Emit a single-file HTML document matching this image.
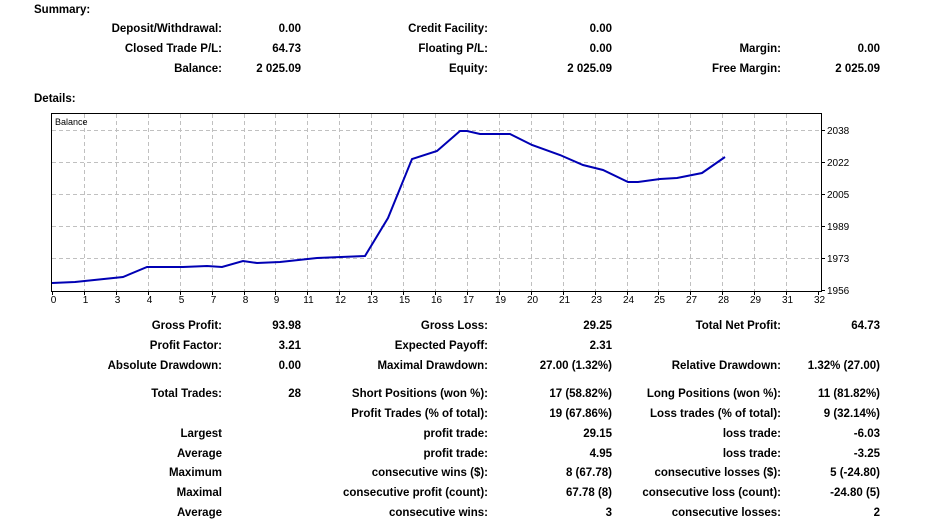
<!DOCTYPE html>
<html><head><meta charset="utf-8"><style>
body{margin:0;width:928px;height:527px;background:#fff;position:relative;overflow:hidden;font-family:"Liberation Sans",sans-serif;font-weight:bold;font-size:11.5px;color:#000}
.t{position:absolute;white-space:nowrap;line-height:13px}
.r{text-align:right}
svg{position:absolute;left:0;top:0}
</style></head><body>
<div class="t" style="left:34px;top:4px">Summary:</div>
<div class="t" style="left:34px;top:93px">Details:</div>
<div id="c"></div>
<svg width="928" height="527" style="font-weight:normal">
<g stroke="#c0c0c0" stroke-dasharray="4,3" stroke-width="1">
<line x1="52" y1="130.5" x2="821" y2="130.5"/><line x1="52" y1="162.5" x2="821" y2="162.5"/><line x1="52" y1="194.5" x2="821" y2="194.5"/><line x1="52" y1="226.5" x2="821" y2="226.5"/><line x1="52" y1="258.5" x2="821" y2="258.5"/>
</g>
<g id="vg" stroke="#c0c0c0" stroke-dasharray="4,3"></g>
<rect x="51.5" y="113.5" width="770" height="178" fill="none" stroke="#000"/>
<text x="55" y="125" font-family="Liberation Sans,sans-serif" font-size="9">Balance</text>
<polyline fill="none" stroke="#0000b4" stroke-width="2" points="52,283 75,282 123,277 147,267 183,267 207,266 222,267 243,261 257,263 280,262 317,258 365,256 388,218 412,159 437,151 460,131 467,131 480,134 510,134 532,145 560,155 583,165 603,170 628,182 638,182 660,179 677,178 702,173 725,157"/>
<g id="yl" font-family="Liberation Sans,sans-serif" font-size="10"></g>
<g id="xl" font-family="Liberation Sans,sans-serif" font-size="10" text-anchor="middle"></g>
</svg>
<script>
var ns="http://www.w3.org/2000/svg";
var xs=[0,1,3,4,5,7,8,9,11,12,13,15,16,17,19,20,21,23,24,25,27,28,29,31,32];
var vg=document.getElementById('vg'),xl=document.getElementById('xl'),yl=document.getElementById('yl');
xs.forEach(function(v,i){var x=Math.round(52+i*31.92)+0.5;
if(i>0&&i<24){var l=document.createElementNS(ns,'line');l.setAttribute('x1',x);l.setAttribute('x2',x);l.setAttribute('y1',114);l.setAttribute('y2',291);vg.appendChild(l);}
var k=document.createElementNS(ns,'line');k.setAttribute('x1',x);k.setAttribute('x2',x);k.setAttribute('y1',291);k.setAttribute('y2',295);k.setAttribute('stroke','#000');vg.parentNode.appendChild(k);
var t=document.createElementNS(ns,'text');t.setAttribute('x',x+1);t.setAttribute('y',303);t.textContent=v;xl.appendChild(t);});
[[2038,130],[2022,162],[2005,194],[1989,226],[1973,258],[1956,290]].forEach(function(a){
var t=document.createElementNS(ns,'text');t.setAttribute('x',827);t.setAttribute('y',a[1]+4);t.textContent=a[0];yl.appendChild(t);
var k=document.createElementNS(ns,'line');k.setAttribute('x1',821);k.setAttribute('x2',825);k.setAttribute('y1',a[1]+.5);k.setAttribute('y2',a[1]+.5);k.setAttribute('stroke','#000');yl.appendChild(k);});
var cols=[222,301,488,612,781,880];
var rows=[
[28,"Deposit/Withdrawal:","0.00","Credit Facility:","0.00","",""],
[48,"Closed Trade P/L:","64.73","Floating P/L:","0.00","Margin:","0.00"],
[68,"Balance:","2 025.09","Equity:","2 025.09","Free Margin:","2 025.09"],
[325,"Gross Profit:","93.98","Gross Loss:","29.25","Total Net Profit:","64.73"],
[345,"Profit Factor:","3.21","Expected Payoff:","2.31","",""],
[365,"Absolute Drawdown:","0.00","Maximal Drawdown:","27.00 (1.32%)","Relative Drawdown:","1.32% (27.00)"],
[393,"Total Trades:","28","Short Positions (won %):","17 (58.82%)","Long Positions (won %):","11 (81.82%)"],
[413,"","","Profit Trades (% of total):","19 (67.86%)","Loss trades (% of total):","9 (32.14%)"],
[433,"Largest","","profit trade:","29.15","loss trade:","-6.03"],
[453,"Average","","profit trade:","4.95","loss trade:","-3.25"],
[472,"Maximum","","consecutive wins ($):","8 (67.78)","consecutive losses ($):","5 (-24.80)"],
[492,"Maximal","","consecutive profit (count):","67.78 (8)","consecutive loss (count):","-24.80 (5)"],
[512,"Average","","consecutive wins:","3","consecutive losses:","2"]];
var c=document.getElementById('c');
rows.forEach(function(r){for(var i=1;i<7;i++){if(!r[i])continue;var d=document.createElement('div');d.className='t r';d.style.right=(928-cols[i-1])+'px';d.style.top=(r[0]-5)+'px';d.textContent=r[i];c.appendChild(d);}});
</script>
</body></html>
